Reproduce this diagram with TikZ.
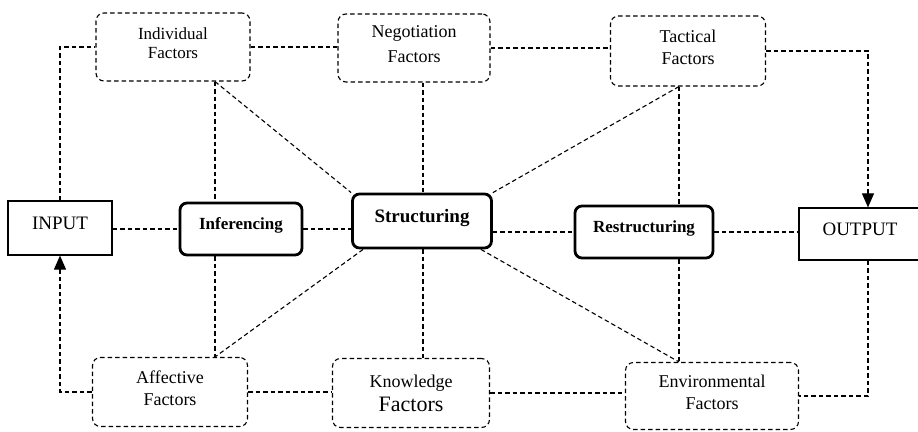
\documentclass[tikz,border=0pt]{standalone}
\usepackage{fontspec}
\setmainfont{Liberation Serif}
\usetikzlibrary{arrows.meta}

\begin{document}
\begin{tikzpicture}[x=1pt,y=-1pt,
    factor/.style={draw,line width=1.1pt,dash pattern=on 4.5pt off 3pt,
        rounded corners=8pt,align=center,inner sep=0pt,text depth=8pt,
        font={\fontsize{18}{22}\selectfont}},
    stage/.style={draw,line width=2.8pt,rounded corners=7pt,inner sep=0pt,
        text depth=10pt,font={\fontsize{17}{20}\selectfont\bfseries}},
    port/.style={draw,line width=1.2pt,inner sep=0pt,text depth=10pt,
        font={\fontsize{19}{22}\selectfont}},
    link/.style={line width=1.1pt,dash pattern=on 4.5pt off 3pt},
    flow/.style={link,-{Triangle[length=14pt,width=12pt]}}]
\useasboundingbox (0,0) rectangle (918,431);

% factor boxes
\node[factor,minimum width=154pt,minimum height=68pt,
    font={\fontsize{17}{19}\selectfont}] (indiv) at (173,47) {Individual\\Factors};
\node[factor,minimum width=152pt,minimum height=68pt,
    font={\fontsize{18}{25}\selectfont}] (negot) at (414,48) {Negotiation\\Factors};
\node[factor,minimum width=155pt,minimum height=70pt] (tact) at (688,51) {Tactical\\Factors};
\node[factor,minimum width=155pt,minimum height=69pt] (affect) at (170,392) {Affective\\Factors};
\node[factor,minimum width=157pt,minimum height=69pt,text depth=0pt]
    (know) at (411,393) {Knowledge\\[2pt]{\fontsize{22}{24}\selectfont Factors}};
\node[factor,minimum width=173pt,minimum height=67pt] (envir) at (712,396) {Environmental\\Factors};

% stages
\node[port,minimum width=104pt,minimum height=54pt] (input) at (60,228) {INPUT};
\node[stage,minimum width=122pt,minimum height=52pt] (infer) at (241,229) {Inferencing};
\node[stage,minimum width=139pt,minimum height=54pt,
    font={\fontsize{19}{22}\selectfont\bfseries}] (struct) at (422,221) {Structuring};
\node[stage,minimum width=138pt,minimum height=52pt] (restr) at (644,232) {Restructuring};
\node[port,minimum width=122pt,minimum height=52pt] (output) at (860,234) {OUTPUT};

% columns of the vertical links
\coordinate (cl) at (215,0);
\coordinate (cm) at (423,0);
\coordinate (cr) at (679,0);
\coordinate (cout) at (868,0);

% top row
\draw[link] (input.north) |- (indiv.west);
\draw[link] (indiv.east) -- (indiv.east -| negot.west);
\draw[link] (negot.east) -- (negot.east -| tact.west);
\draw[flow] (tact.east) -| (output.north -| cout);

% down from the factors
\draw[link] (indiv.south -| cl) -- (infer.north -| cl);
\draw[link] (indiv.south -| cl) -- (struct.north west);
\draw[link] (negot.south -| cm) -- (struct.north -| cm);
\draw[link] (tact.south -| cr) -- (restr.north -| cr);
\draw[link] (tact.south -| cr) -- (struct.north east);

% middle row
\draw[link] (infer.west -| input.east) -- (infer.west);
\draw[link] (infer.east) -- (infer.east -| struct.west);
\draw[link] (restr.west -| struct.east) -- (restr.west);
\draw[link] (restr.east) -- (restr.east -| output.west);

% down to the factors
\draw[link] (infer.south -| cl) -- (affect.north -| cl);
\draw[link] ([xshift=12pt]struct.south west) -- (affect.north -| cl);
\draw[link] (struct.south -| cm) -- (know.north -| cm);
\draw[link] ([xshift=-12pt]struct.south east) -- (envir.north -| cr);
\draw[link] (restr.south -| cr) -- (envir.north -| cr);

% bottom row
\draw[link] (affect.east) -- (affect.east -| know.west);
\draw[link] (know.east) -- (know.east -| envir.west);
\draw[link] (output.south -| cout) |- (envir.east);
\draw[flow] (affect.west) -| (input.south);

\end{tikzpicture}
\end{document}
